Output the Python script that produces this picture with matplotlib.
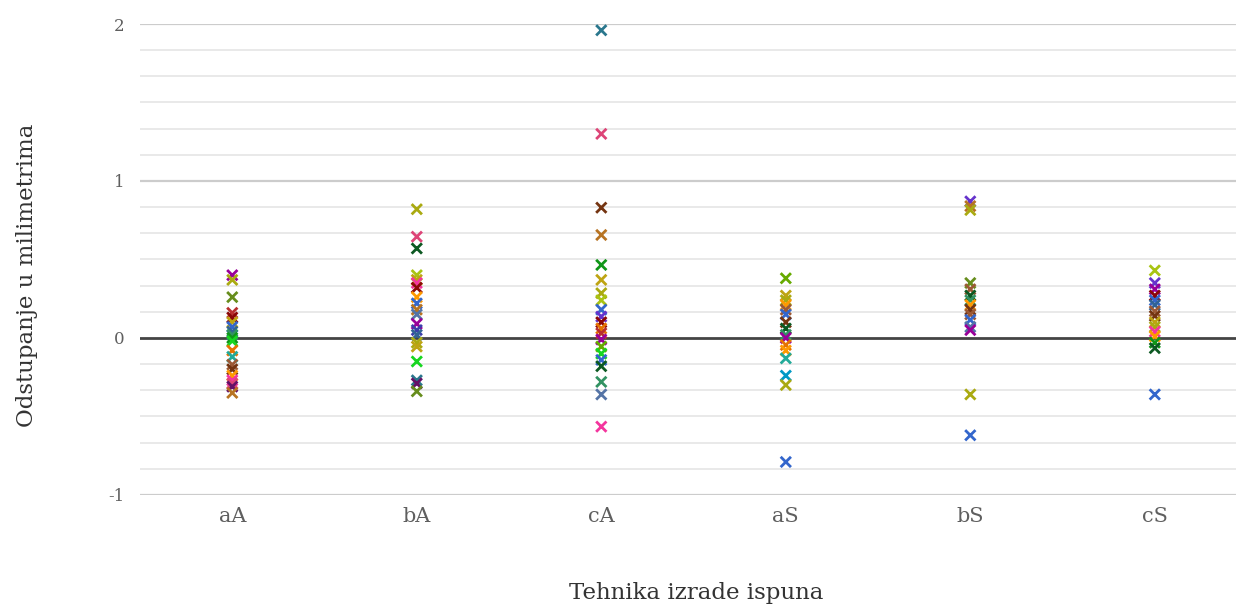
import matplotlib
matplotlib.use("Agg")
import matplotlib.pyplot as plt
import numpy as np

# DATI
kategorije = ["aA", "bA", "cA", "aS", "bS", "cS"]

vrijednosti_aA = [0.40, 0.37, 0.26, 0.16, 0.13, 0.10, 0.07, 0.04, 0.02, 0.0,
                  -0.02, -0.08, -0.12, -0.17, -0.20, -0.24, -0.27, -0.29, -0.31, -0.35]
vrijednosti_bA = [0.82, 0.645, 0.57, 0.40, 0.37, 0.35, 0.32, 0.26, 0.22, 0.18,
                  0.15, 0.09, 0.05, 0.02, -0.03, -0.055, -0.15, -0.27, -0.29, -0.34]
vrijednosti_cA = [1.96, 1.30, 0.83, 0.656, 0.465, 0.37, 0.285, 0.24, 0.18, 0.136,
                  0.10, 0.06, 0.03, -0.01, -0.055, -0.10, -0.14, -0.18, -0.28, -0.36, -0.565]
vrijednosti_aS = [0.38, 0.27, 0.24, 0.21, 0.18, 0.15, 0.10, 0.06, 0.02, 0.0,
                  -0.045, -0.08, -0.13, -0.24, -0.30, -0.79]
vrijednosti_bS = [0.87, 0.84, 0.815, 0.35, 0.31, 0.27, 0.24, 0.21, 0.18, 0.15,
                  0.115, 0.07, 0.05, -0.36, -0.62]
vrijednosti_cS = [0.43, 0.35, 0.31, 0.27, 0.24, 0.21, 0.17, 0.14, 0.10, 0.07,
                  0.04, 0.01, -0.03, -0.065, -0.36]

# BOJE
boje_aA = ["#990099", "#aaaa11", "#668d1c", "#b82e2e", "#8b0707", "#bea413", "#3366cc",
           "#316395", "#329262", "#109618", "#16d620", "#e67300", "#22aa99", "#9c5935",
           "#743411", "#ff9900", "#f4359e", "#dd4477", "#651067", "#b77322"]
boje_bA = ["#aaaa11", "#dd4477", "#0c5922", "#a9c413", "#bea413", "#f4359e", "#8b0707",
           "#ff9900", "#3366cc", "#b77322", "#5574a6", "#990099", "#3b3eac", "#316395",
           "#aaaa11", "#bea413", "#16d620", "#2a778d", "#651067", "#668d1c"]
boje_cA = ["#2a778d", "#dd4477", "#743411", "#b77322", "#109618", "#bea413", "#aaaa11",
           "#a9c413", "#3366cc", "#6633cc", "#8b0707", "#e67300", "#b82e2e", "#990099",
           "#66aa00", "#16d620", "#3366cc", "#0c5922", "#329262", "#5574a6", "#f4359e"]
boje_aS = ["#66aa00", "#bea413", "#aaaa11", "#ff9900", "#9c5935", "#3366cc", "#743411",
           "#0c5922", "#329262", "#990099", "#e67300", "#ff9900", "#22aa99", "#0099c6",
           "#aaaa11", "#3366cc"]
boje_bS = ["#6633cc", "#b77322", "#aaaa11", "#668d1c", "#9c5935", "#0c5922", "#329262",
           "#ff9900", "#743411", "#9c5935", "#3366cc", "#5574a6", "#990099", "#aaaa11",
           "#3366cc"]
boje_cS = ["#a9c413", "#6633cc", "#990099", "#8b0707", "#3366cc", "#316395", "#9c5935",
           "#743411", "#bea413", "#aaaa11", "#f4359e", "#ff9900", "#109618", "#0c5922",
           "#3366cc"]

sve_vrijednosti = [vrijednosti_aA, vrijednosti_bA, vrijednosti_cA,
                   vrijednosti_aS, vrijednosti_bS, vrijednosti_cS]
sve_boje = [boje_aA, boje_bA, boje_cA, boje_aS, boje_bS, boje_cS]

plt.rcParams['font.family'] = ['DejaVu Serif']
plt.rcParams['axes.unicode_minus'] = False
siva = "#5f5f5f"

fig = plt.figure(figsize=(12.36, 6.08), dpi=100)
ax = fig.add_axes([0.1133, 0.186, 0.8867, 0.7745])

# mreza
for y in np.arange(-1, 2.001, 1/6):
    if abs(y - round(y)) < 1e-6:
        if round(y) == 0:
            continue
        ax.axhline(y, color="#cccccc", lw=1.6, zorder=0)
    else:
        ax.axhline(y, color="#e3e3e3", lw=1.1, zorder=0)
ax.axhline(0, color="#444444", lw=2, zorder=1)

for i, (vals, cols) in enumerate(zip(sve_vrijednosti, sve_boje)):
    ax.scatter([i] * len(vals), vals, marker="x", c=cols, s=55, linewidths=2.0,
               zorder=3, clip_on=False)

ax.set_xlim(-0.5, 5.44)
ax.set_ylim(-1, 2)
ax.set_xticks(range(len(kategorije)))
ax.set_xticklabels(kategorije)
ax.set_yticks([-1, 0, 1, 2])
ax.tick_params(axis="y", length=0, pad=11, labelsize=12, labelcolor=siva)
ax.tick_params(axis="x", length=0, pad=9, labelsize=15, labelcolor=siva)
for s in ax.spines.values():
    s.set_visible(False)

ax.set_xlabel("Tehnika izrade ispuna", fontsize=16.5, color="#333333")
ax.set_ylabel("Odstupanje u milimetrima", fontsize=16.5, color="#333333")
ax.xaxis.set_label_coords(0.507, -0.185)
ax.yaxis.set_label_coords(-0.093, 0.467)

fig.savefig("out.png", dpi=100)
